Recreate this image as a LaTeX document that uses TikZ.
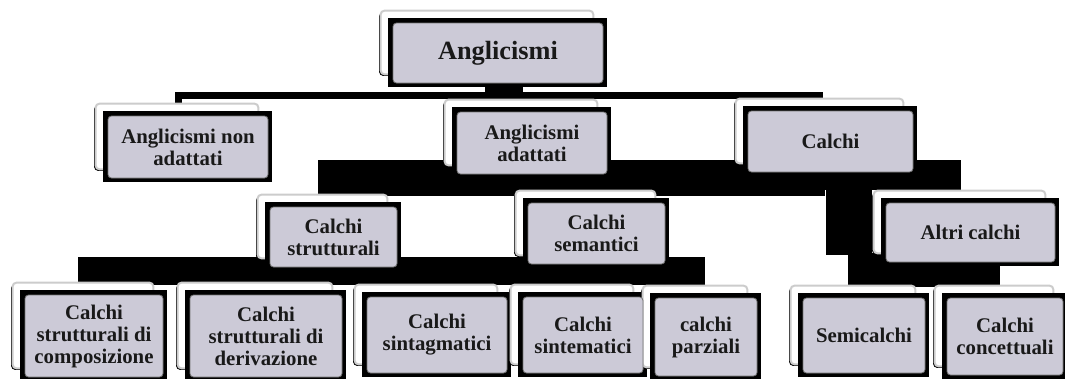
\documentclass[tikz,border=0pt]{standalone}
\usepackage{fontspec}
\setmainfont{Liberation Serif}
\usetikzlibrary{backgrounds}

\definecolor{boxfill}{RGB}{204,202,215}
\definecolor{boxtext}{RGB}{25,25,25}

\newcommand{\cardfont}{\fontsize{20.8}{22}\selectfont\bfseries}
\newcommand{\topfont}{\fontsize{26.3}{28}\selectfont\bfseries}

\tikzset{
    card/.style={rounded corners=3.5pt, fill=boxfill, draw=black!55, line width=0.8pt,
                 text=boxtext, align=center, inner sep=0pt, font=\cardfont},
    backcard/.style={rounded corners=4pt, fill=white, draw=gray!40, line width=2pt},
    bus/.style={line width=7pt, black},
    blob/.style={fill=black},
}

% back card, dark frame behind each front card
\newcommand{\cardlayers}[1]{%
    \fill[black, rounded corners=4pt] ([xshift=-13.5pt,yshift=10.5pt]#1.north west) rectangle ([xshift=-11.5pt,yshift=7.5pt]#1.south east);
    \draw[backcard] ([xshift=-12pt,yshift=12pt]#1.north west) rectangle ([xshift=-10pt,yshift=9pt]#1.south east);
    \fill[black] ([xshift=-4.5pt,yshift=4.5pt]#1.north west) rectangle ([xshift=4pt,yshift=-4pt]#1.south east);
}

\begin{document}
\begin{tikzpicture}[x=1pt, y=1pt]
    \useasboundingbox (0,0) rectangle (1065,-378);

    \node[card, minimum width=210, minimum height=60, font=\topfont] (ang) at (498,-53) {Anglicismi};

    \node[card, minimum width=160, minimum height=62] (nonad)  at (188,-147)   {Anglicismi non\\adattati};
    \node[card, minimum width=150, minimum height=62] (adatt)  at (532,-143)   {Anglicismi\\adattati};
    \node[card, minimum width=165, minimum height=61] (calchi) at (830.5,-141.5) {Calchi};

    \node[card, minimum width=127, minimum height=60] (strutt) at (333.5,-237) {Calchi\\strutturali};
    \node[card, minimum width=137, minimum height=61] (seman)  at (596.5,-233.5) {Calchi\\semantici};
    \node[card, minimum width=169, minimum height=59] (altri)  at (970.5,-232.5) {Altri calchi};

    \node[card, minimum width=138, minimum height=82] (compos) at (94,-336)   {Calchi\\strutturali di\\composizione};
    \node[card, minimum width=152, minimum height=82] (deriv)  at (266,-336)  {Calchi\\strutturali di\\derivazione};
    \node[card, minimum width=140, minimum height=76] (sintag) at (437,-335)  {Calchi\\sintagmatici};
    \node[card, minimum width=120, minimum height=76] (sintem) at (583,-335)  {Calchi\\sintematici};
    \node[card, minimum width=102, minimum height=78] (parz)   at (706,-337)  {calchi\\parziali};
    \node[card, minimum width=122, minimum height=75] (semi)   at (864,-335.5) {Semicalchi};
    \node[card, minimum width=116, minimum height=77] (conc)   at (1005,-336.5) {Calchi\\concettuali};

    \begin{scope}[on background layer]
        % top bus
        \draw[bus] ([xshift=-10pt,yshift=10pt]nonad.north) |- ([yshift=-12.5pt]ang.south) -| ([xshift=-11.5pt,yshift=12pt]calchi.north);
        \fill[blob] ([xshift=-13pt,yshift=-3pt]ang.south) rectangle ([xshift=25pt,yshift=-17pt]ang.south);

        % filled connector blocks
        \fill[blob] (318,-160) rectangle (825,-196);
        \fill[blob] (825,-160) rectangle (961,-190);
        \fill[blob] (826,-190) rectangle (872,-255);
        \fill[blob] (848,-253) rectangle (1000,-287);
        \fill[blob] (78,-257)  rectangle (705,-285);

        \foreach \n in {ang,nonad,adatt,calchi,strutt,seman,altri,compos,deriv,sintag,sintem,parz,semi,conc}
            {\cardlayers{\n}}
    \end{scope}
\end{tikzpicture}
\end{document}
